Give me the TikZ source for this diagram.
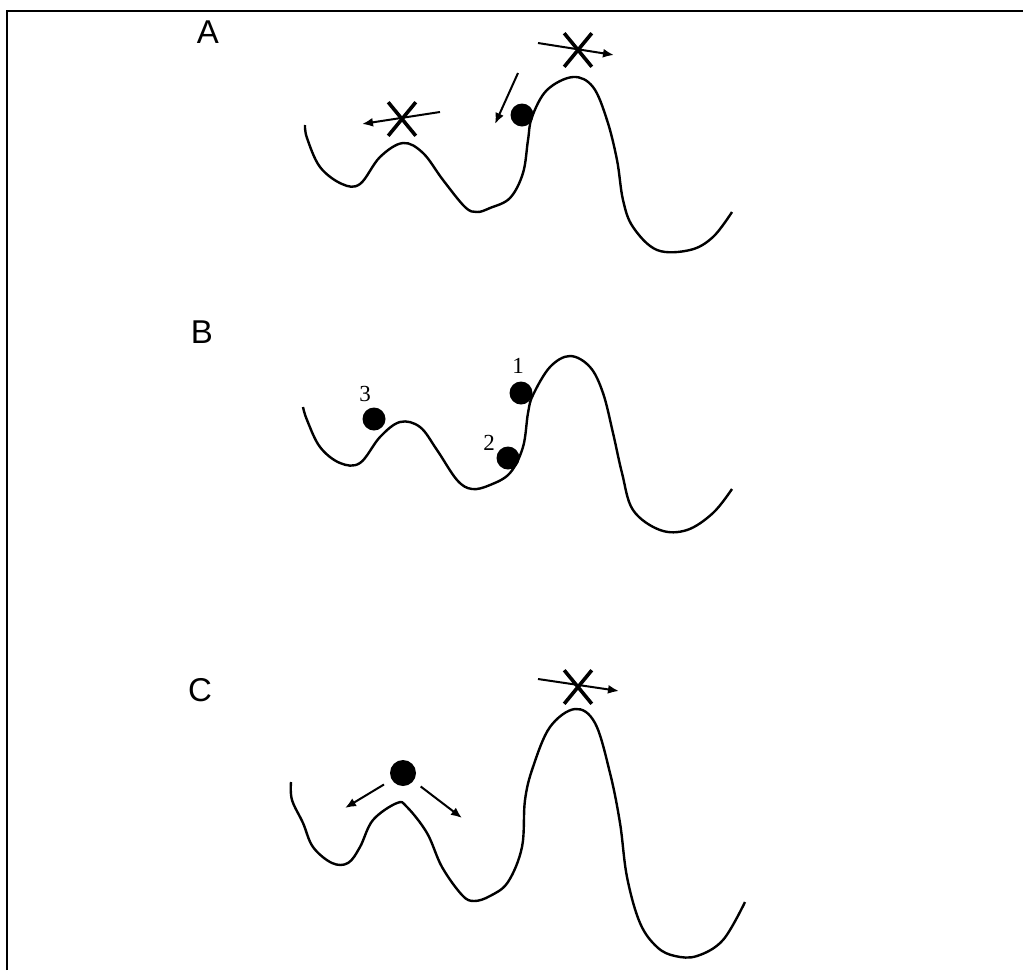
\documentclass[tikz,border=0pt]{standalone}
\usepackage{fontspec}
\setmainfont{Liberation Serif}
\newfontfamily\panelfont{Liberation Sans}
\usetikzlibrary{arrows.meta, shapes.misc}

\begin{document}
\begin{tikzpicture}[
  x=1pt, y=-1pt,
  curve/.style={line width=2.4pt, smooth, tension=0.6},
  ball/.style={circle, fill=black, inner sep=0pt, minimum size=23pt},
  star/.style={cross out, draw, line width=3.6pt, minimum width=24pt, minimum height=30pt, inner sep=0pt},
  arrow/.style={line width=2pt, -{Latex[length=11pt, width=9pt]}},
  panel/.style={font=\panelfont\fontsize{33}{33}\selectfont},
  tag/.style={font=\fontsize{23}{23}\selectfont}
]

\useasboundingbox (0,0) rectangle (1023,970);
\draw[line width=2pt] (7,970) -- (7,11) -- (1023,11);

% Panel labels
\node[panel] (labA) at (208,32) {A};
\node[panel] (labB) at (202,332) {B};
\node[panel] (labC) at (200,690) {C};

% Panel A - landscape
\draw[curve] plot coordinates {(305,125) (307,138) (320,167) (342,184) (360,184) (380,157)
  (403,143) (423,153) (443,180) (465,207) (477,212) (490,208) (510,198) (523,173) (528,140)
  (532,117) (547,90) (573,77) (593,87) (607,120) (617,160) (623,200) (633,227)
  (657,250) (690,250) (713,237) (732,212)};
\node[ball] (ballA) at (522,115) {};
\coordinate (pushA) at (518,73);
\coordinate (dropA) at (495,124);
\draw[arrow] (pushA) -- (dropA);
% blocked moves over the barriers
\node[star] (lowStarA) at (402,119) {};
\coordinate (lowTailA) at (440,112);
\coordinate (lowHeadA) at (362,124);
\draw[arrow] (lowTailA) -- (lowHeadA);
\node[star] (highStarA) at (578,50) {};
\coordinate (highTailA) at (538,43);
\coordinate (highHeadA) at (614,55);
\draw[arrow] (highTailA) -- (highHeadA);

% Panel B - landscape with three positions
\draw[curve] plot coordinates {(303,407) (307,420) (320,447) (340,463) (360,463) (380,437)
  (400,422) (420,427) (437,450) (457,480) (472,489) (490,485) (510,473) (523,447)
  (528,413) (533,395) (550,367) (570,356) (590,367) (603,393) (613,433) (622,473)
  (633,510) (660,530) (687,530) (713,513) (732,489)};
\node[ball] (ballOne) at (521,393) {};
\node[ball] (ballTwo) at (508,458) {};
\node[ball] (ballThree) at (374,419) {};
\node[tag] (tagOne) at (518,366) {1};
\node[tag] (tagTwo) at (489,443) {2};
\node[tag] (tagThree) at (365,394) {3};

% Panel C - landscape
\draw[curve] plot coordinates {(291,782) (292,800) (303,823) (313,847) (332,863) (348,863)
  (360,847) (373,820) (397,803) (407,807) (427,833) (442,867) (462,895) (474,901)
  (490,896) (508,882) (522,847) (525,800) (533,767) (550,727) (575,709) (595,723) (610,773)
  (620,823) (627,877) (640,923) (657,947) (675,956) (697,956) (723,940) (745,902)};
\node[ball, minimum size=26pt] (ballC) at (403,773) {};
\coordinate (leftC) at (345,808);
\coordinate (rightC) at (462,818);
\draw[arrow, shorten <=9pt] (ballC) -- (leftC);
\draw[arrow, shorten <=9pt] (ballC) -- (rightC);
\node[star] (starC) at (578,687) {};
\coordinate (tailC) at (538,679);
\coordinate (headC) at (619,691);
\draw[arrow] (tailC) -- (headC);

\end{tikzpicture}
\end{document}
